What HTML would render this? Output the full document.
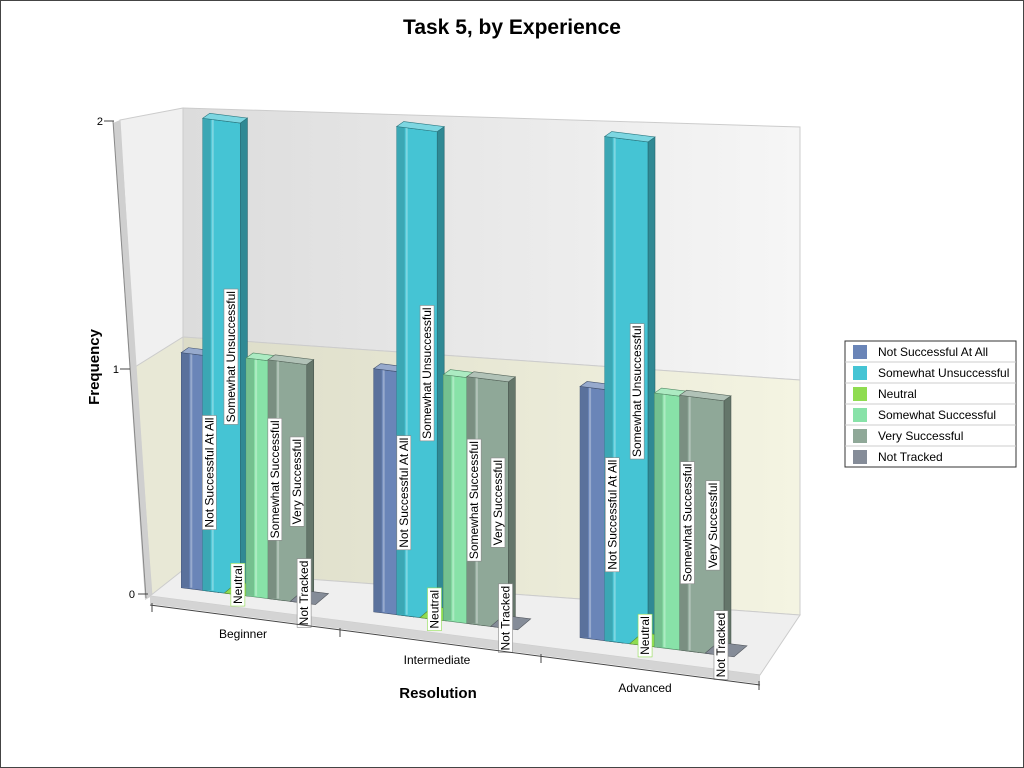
<!DOCTYPE html>
<html><head><meta charset="utf-8"><style>
body{margin:0;background:#fff;font-family:"Liberation Sans",Arial,sans-serif}
svg{display:block}
</style></head><body>
<svg id="c" width="1024" height="768" viewBox="0 0 1024 768">
<defs>
<linearGradient id="wallTop" x1="0" y1="0" x2="1" y2="0"><stop offset="0" stop-color="#dcdcdc"/><stop offset="1" stop-color="#f6f6f6"/></linearGradient>
<linearGradient id="wallBot" x1="0" y1="0" x2="1" y2="0"><stop offset="0" stop-color="#dcdcc8"/><stop offset="1" stop-color="#f4f4e2"/></linearGradient>
</defs>
<rect x="0.5" y="0.5" width="1023" height="767" fill="#fff" stroke="#444"/>
<text x="512" y="34" text-anchor="middle" font-size="21" font-weight="bold" fill="#000">Task 5, by Experience</text>
<g>
<polygon points="183,108 800,127 800,380 183,337" fill="url(#wallTop)" stroke="#ccc"/>
<polygon points="183,337 800,380 800,615 183,570" fill="url(#wallBot)" stroke="#ccc"/>
</g>
<g>
<polygon points="120,120 183,108 183,337 135,367" fill="#f0f0f0" stroke="#ccc"/>
<polygon points="135,367 183,337 183,570 152,596" fill="#e8e8d6" stroke="#ccc"/>
<polygon points="113,123 120,120 152,596 145,600" fill="#cfcfcf"/>
</g>
<g>
<polygon points="150,596 183,570 800,615 760,675" fill="#efefef" stroke="#ccc"/>
<polygon points="150,596 760,675 760,684 150,604" fill="#d4d4d4"/>
</g>
<g id="bars"></g>
<g>
<line x1="113" y1="121" x2="146" y2="598" stroke="#888"/>
<line x1="104" y1="121" x2="114" y2="121" stroke="#444"/><text x="103" y="125" text-anchor="end" font-size="11">2</text>
<line x1="120" y1="369" x2="130" y2="369" stroke="#444"/><text x="119" y="373" text-anchor="end" font-size="11">1</text>
<line x1="138" y1="594" x2="148" y2="594" stroke="#444"/><text x="135" y="598" text-anchor="end" font-size="11">0</text>
</g>
<text transform="translate(99,367) rotate(-90)" text-anchor="middle" font-size="15" font-weight="bold">Frequency</text>
<g>
<line x1="150" y1="605" x2="760" y2="685" stroke="#444"/>
<line x1="152" y1="603" x2="152" y2="612" stroke="#444"/>
<line x1="340" y1="628" x2="340" y2="637" stroke="#444"/>
<line x1="541" y1="654" x2="541" y2="663" stroke="#444"/>
<line x1="759" y1="681" x2="759" y2="690" stroke="#444"/>
<text x="243" y="638" text-anchor="middle" font-size="12">Beginner</text>
<text x="437" y="664" text-anchor="middle" font-size="12">Intermediate</text>
<text x="645" y="692" text-anchor="middle" font-size="12">Advanced</text>
</g>
<text x="438" y="698" text-anchor="middle" font-size="15" font-weight="bold">Resolution</text>
<g id="legend">
<rect x="845" y="341" width="171" height="126" fill="#fff" stroke="#333"/>
</g>
</svg>
<script>
const categories=["Beginner","Intermediate","Advanced"];
const seriesNames=["Not Successful At All","Somewhat Unsuccessful","Neutral","Somewhat Successful","Very Successful","Not Tracked"];
const seriesColors=["#6a85b8","#45c4d4","#8fdc50","#88e2a8","#8fa898","#858c98"];
const vNSA=[1,1,1];
const vSU=[2,2,2];
const vNeutral=[0,0,0];
const vSS=[1,1,1];
const vVS=[1,1,1];
const vNT=[0,0,0];
const seriesValues=[vNSA,vSU,vNeutral,vSS,vVS,vNT];
const NS="http://www.w3.org/2000/svg";
function X(u){return 150+183*u+7*u*u;}
function B(x){return 588+(x-183)*0.125;}
function H(u){return 233+u*8;}
function shade(c,f){const n=parseInt(c.slice(1),16);let r=n>>16,g=(n>>8)&255,b=n&255;
 const m=v=>Math.max(0,Math.min(255,Math.round(f>1?v+(255-v)*(f-1):v*f)));
 return "rgb("+m(r)+","+m(g)+","+m(b)+")";}
function poly(parent,pts,fill,stroke){const p=document.createElementNS(NS,"polygon");
 p.setAttribute("points",pts.map(a=>a.join(",")).join(" "));p.setAttribute("fill",fill);
 if(stroke){p.setAttribute("stroke",stroke);p.setAttribute("stroke-width","0.6");}
 parent.appendChild(p);return p;}
const barsG=document.getElementById("bars");
const dx=7,dy=-5;
const labels=[];
for(let g=0;g<categories.length;g++){
 for(let s=0;s<seriesNames.length;s++){
  const v=seriesValues[s][g];
  const u0=g+0.17+s*0.115,u1=u0+(v>0?0.2:0.13),um=(u0+u1)/2;
  const x0=X(u0),x1=X(u1),b0=B(x0),b1=B(x1),h=H(um)*v;
  const grp=document.createElementNS(NS,"g");
  
  
  const c=seriesColors[s];
  if(v>0){
   poly(grp,[[x1,b1-h],[x1+dx,b1-h+dy],[x1+dx,b1+dy],[x1,b1]],shade(c,0.7),shade(c,0.5));
   poly(grp,[[x0,b0],[x0,b0-h],[x1,b1-h],[x1,b1]],c,shade(c,0.55));
   poly(grp,[[x0,b0],[x0,b0-h],[x0+8,b0-h],[x0+8,b0]],shade(c,0.85));
   poly(grp,[[x0+9,b0],[x0+9,b0-h],[x0+11,b0-h],[x0+11,b0]],shade(c,1.3));
   poly(grp,[[x0,b0-h],[x0+dx,b0-h+dy],[x1+dx,b1-h+dy],[x1,b1-h]],shade(c,1.3),shade(c,0.6));
  }else{
   poly(grp,[[x0,b0],[x0+dx+6,b0+dy-6],[x1+dx+6,b1+dy-6],[x1,b1]],c,shade(c,0.6));
  }
  barsG.appendChild(grp);
  const lx=x0+(x1-x0)*(v>0?0.75:0.55), ly=v>0?(b0+b1)/2-h/2:(b0+b1)/2-10;
  labels.push([g,s,lx,ly]);
 }
}
for(const [g,s,lx,ly] of labels){
  const lg=document.createElementNS(NS,"g");
  lg.setAttribute("transform","translate("+lx+","+ly+") rotate(-90)");
  
  
  const t=document.createElementNS(NS,"text");
  t.setAttribute("text-anchor","middle");t.setAttribute("y","4");t.setAttribute("font-size","12");
  t.textContent=seriesNames[s];
  const r=document.createElementNS(NS,"rect");
  lg.appendChild(r);lg.appendChild(t);barsG.appendChild(lg);
  const w=t.getComputedTextLength()+4;
  r.setAttribute("x",-w/2);r.setAttribute("y",-7);r.setAttribute("width",w);r.setAttribute("height",14);
  r.setAttribute("fill","#fff");r.setAttribute("stroke",s==2?"#8fdc50":"#888");r.setAttribute("stroke-width","0.6");
}
const leg=document.getElementById("legend");
for(let s=0;s<seriesNames.length;s++){
 const y=341+s*21;
 const e=document.createElementNS(NS,"g");
 
 
 if(s>0){const l=document.createElementNS(NS,"line");l.setAttribute("x1",845);l.setAttribute("x2",1016);l.setAttribute("y1",y);l.setAttribute("y2",y);l.setAttribute("stroke","#ccc");e.appendChild(l);}
 const r=document.createElementNS(NS,"rect");r.setAttribute("x",853);r.setAttribute("y",y+4);r.setAttribute("width",14);r.setAttribute("height",14);r.setAttribute("fill",seriesColors[s]);e.appendChild(r);
 const t=document.createElementNS(NS,"text");t.setAttribute("x",878);t.setAttribute("y",y+15);t.setAttribute("font-size","12");t.textContent=seriesNames[s];e.appendChild(t);
 leg.appendChild(e);
}
</script>
</body></html>
